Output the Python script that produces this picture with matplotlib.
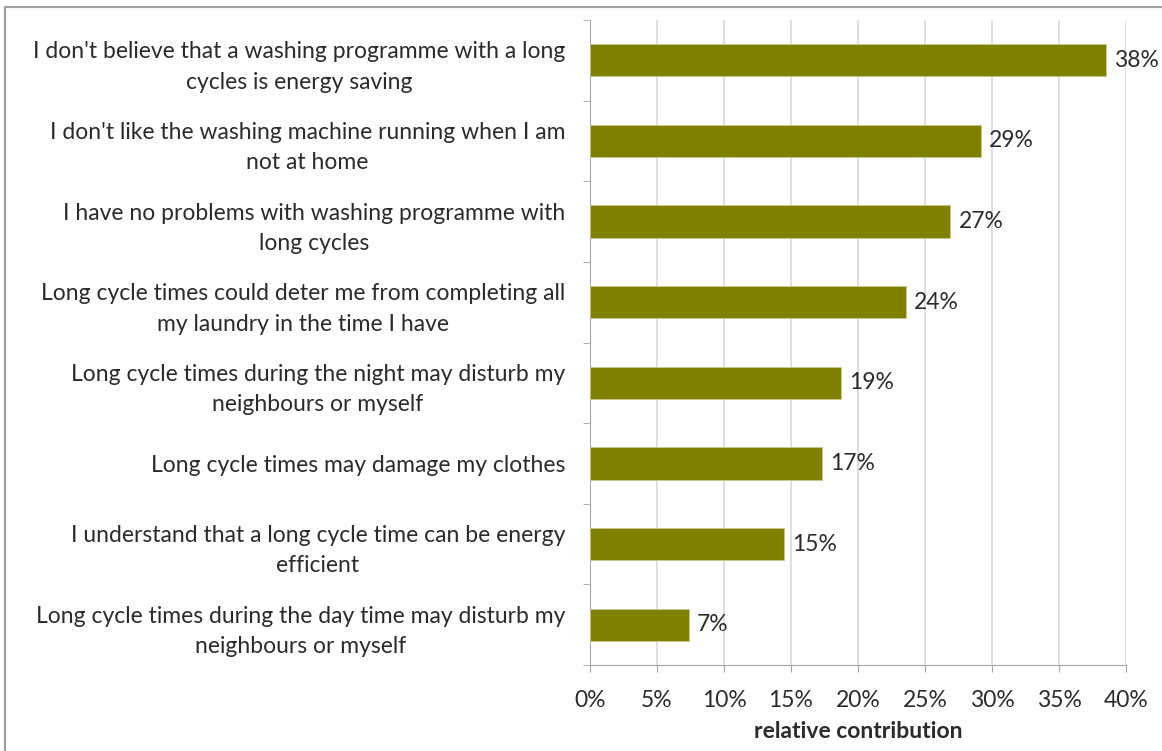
import matplotlib
matplotlib.use("Agg")
import matplotlib.pyplot as plt
from matplotlib.lines import Line2D
from matplotlib.ticker import FixedLocator, PercentFormatter

categories = [
    "I don't believe that a washing programme with a long\ncycles is energy saving",
    "I don't like the washing machine running when I am\nnot at home",
    "I have no problems with washing programme with\nlong cycles",
    "Long cycle times could deter me from completing all\nmy laundry in the time I have",
    "Long cycle times during the night may disturb my\nneighbours or myself",
    "Long cycle times may damage my clothes",
    "I understand that a long cycle time can be energy\nefficient",
    "Long cycle times during the day time may disturb my\nneighbours or myself",
]
values = [38.5, 29.2, 26.9, 23.6, 18.7, 17.3, 14.5, 7.4]
labels = ["38%", "29%", "27%", "24%", "19%", "17%", "15%", "7%"]
xticks = [0, 5, 10, 15, 20, 25, 30, 35, 40]

plt.rcParams['font.family'] = ['Lato', 'DejaVu Sans']
TXT = '#2b2b2b'
FS = 16.5

fig = plt.figure(figsize=(11.62, 7.51), dpi=100)
W, H = 1162, 751
ax = fig.add_axes([590 / W, 1 - 665 / H, (1126 - 590) / W, (665 - 20) / H])

n = len(categories)
ypos = list(range(n))
ax.barh(ypos, values, height=0.4, color='#808000', edgecolor='#c8c88a', linewidth=0.6, zorder=3)
for y, v, lab in zip(ypos, values, labels):
    ax.text(v + 0.6, y, lab, va='center', ha='left', fontsize=FS, color=TXT, zorder=4)

ax.set_xlim(0, 40)
ax.set_ylim(n - 0.5, -0.5)
ax.set_xticks(xticks)
ax.xaxis.set_major_formatter(PercentFormatter(decimals=0))
ax.set_yticks(ypos)
ax.set_yticklabels(categories, fontsize=FS, color=TXT, multialignment='center', linespacing=1.55)
ax.yaxis.set_minor_locator(FixedLocator([i - 0.5 for i in range(n + 1)]))
ax.tick_params(axis='y', which='major', length=0, pad=18)
ax.tick_params(axis='y', which='minor', length=5, color='#a6a6a6', direction='out')
ax.tick_params(axis='x', length=5, color='#a6a6a6', labelsize=FS, labelcolor=TXT, pad=13)

ax.grid(axis='x', color='#d9d9d9', linewidth=1.2, zorder=0)
for s in ['top', 'right']:
    ax.spines[s].set_visible(False)
ax.spines['left'].set_color('#a6a6a6')
ax.spines['bottom'].set_color('#a6a6a6')
ax.set_xlabel('relative contribution', fontsize=FS, fontweight='bold', color=TXT, labelpad=7)

# outer chart border
fig.add_artist(Line2D([4.5 / W, 4.5 / W], [0, 1 - 7 / H], transform=fig.transFigure, color='#a0a0a0', lw=1.5))
fig.add_artist(Line2D([4.5 / W, 1], [1 - 7 / H, 1 - 7 / H], transform=fig.transFigure, color='#a0a0a0', lw=1.5))

fig.savefig('out.png', dpi=100)
